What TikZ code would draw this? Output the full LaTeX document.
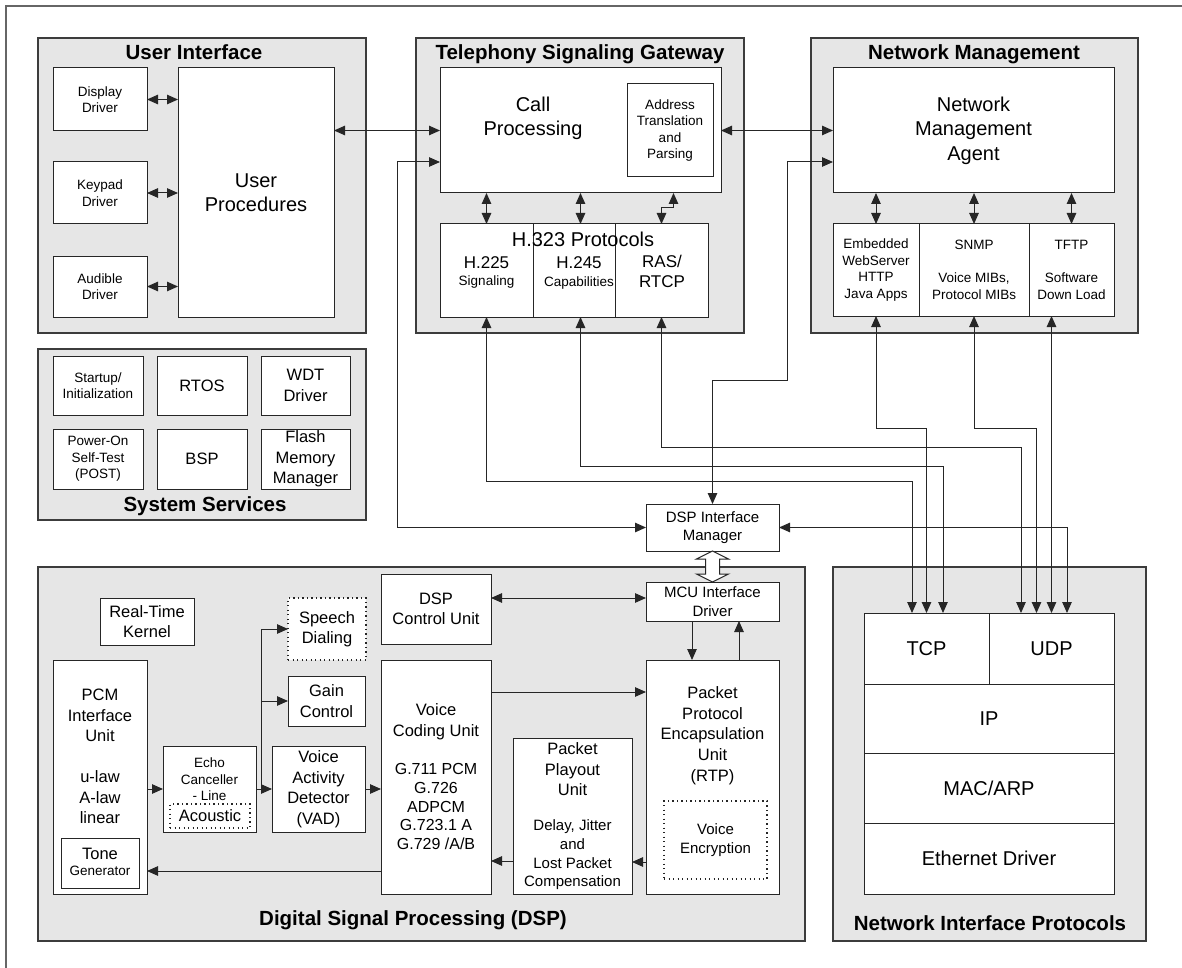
\documentclass[tikz,border=0pt]{standalone}
\usepackage{fontspec}
\setmainfont{Liberation Sans}
\usetikzlibrary{arrows.meta,calc}
\definecolor{grpfill}{RGB}{230,230,230}
\definecolor{grpline}{RGB}{60,60,60}
\newcommand\fA{\fontsize{20}{24.5}\selectfont}
\newcommand\fB{\fontsize{16.5}{20.5}\selectfont}
\newcommand\fC{\fontsize{13.5}{16.5}\selectfont}
\newcommand\fD{\fontsize{15}{18.7}\selectfont}
\newcommand\fE{\fontsize{17}{20}\selectfont}
\newcommand\fT{\fontsize{20.5}{24}\selectfont\bfseries}
\newcommand\mkbox[7][]{\node[box,minimum width={(#5-#3)*1pt},minimum height={(#6-#4)*1pt},#1] (#2) at ({(#3+#5)/2},{(#4+#6)/2}) {#7};}
\begin{document}
\begin{tikzpicture}[x=1pt,y=-1pt,
  >={Triangle[length=11pt,width=9.5pt]},
  grp/.style={draw=grpline,fill=grpfill,line width=1.2pt},
  box/.style={rectangle,draw=black!85,fill=white,line width=1pt,inner sep=0pt,outer sep=0pt,align=center},
  dotbox/.style={dash pattern=on 1.2pt off 3.3pt,line width=1.3pt},
  lbl/.style={inner sep=0pt,outer sep=0pt,align=center},
  ttl/.style={inner sep=0pt,font=\fT,anchor=base},
  conn/.style={draw=black!85,line width=1pt}]
\useasboundingbox (0,0) rectangle (1182,968);
\draw[draw=black!60,line width=1.3pt] (6,968) -- (6,6) -- (1182,6);

% groups
\mkbox[grp]{gUI}{38}{38}{366}{333}{}
\node[ttl] (tUI) at (194,59.5) {User Interface};
\mkbox[grp]{gTSG}{416}{38}{744}{333}{}
\node[ttl] (tTSG) at (580,59.5) {Telephony Signaling Gateway};
\mkbox[grp]{gNM}{811}{38}{1138}{333}{}
\node[ttl] (tNM) at (974,59.5) {Network Management};
\mkbox[grp]{gSS}{38}{349}{366}{520}{}
\node[ttl] (tSS) at (205,511.5) {System Services};
\mkbox[grp]{gDSP}{38}{567}{805}{941}{}
\node[ttl] (tDSP) at (413,925.5) {Digital Signal Processing (DSP)};
\mkbox[grp]{gNIP}{833}{567}{1146}{941}{}
\node[ttl] (tNIP) at (990,930.5) {Network Interface Protocols};

% user interface
\mkbox[font=\fC]{disp}{53}{68}{147}{131}{Display\\Driver}
\mkbox[font=\fC]{keyp}{53}{162}{147}{224}{Keypad\\Driver}
\mkbox[font=\fC]{aud}{53}{256}{147}{317}{Audible\\Driver}
\mkbox[font=\fA]{uproc}{178}{68}{334}{317}{User\\Procedures}

% telephony signaling gateway
\mkbox{cp}{440}{68}{721}{193}{}
\node[lbl,font=\fA] (cpt) at (533,118.5) {Call\\Processing};
\mkbox[font=\fC]{atp}{627}{84}{713}{177}{Address\\Translation\\and\\Parsing}
\mkbox{h225}{440}{224}{533}{317}{}
\mkbox{h245}{533}{224}{615}{317}{}
\mkbox{ras}{615}{224}{708}{317}{}
\node[lbl,font=\fA] (h323t) at (583,239) {H.323 Protocols};
\node[lbl,font=\fE] (h225a) at (486.5,263) {H.225};
\node[lbl,font=\fC] (h225b) at (486.5,282) {Signaling};
\node[lbl,font=\fE] (h245a) at (579,263) {H.245};
\node[lbl,font=\fC] (h245b) at (579,283) {Capabilities};
\node[lbl,font=\fE] (rast) at (662,271) {RAS/\\RTCP};

% network management
\mkbox[font=\fA]{nma}{833}{68}{1114}{193}{Network\\Management\\Agent}
\mkbox[font=\fC]{emb}{833}{224}{919}{316}{Embedded\\WebServer\\HTTP\\Java Apps}
\mkbox[font=\fC]{snmp}{919}{224}{1029}{316}{SNMP\\[16.5pt]Voice MIBs,\\Protocol MIBs}
\mkbox[font=\fC]{tftp}{1029}{224}{1114}{316}{TFTP\\[16.5pt]Software\\Down Load}

% system services
\mkbox[font=\fC]{su}{53}{356}{143}{415}{Startup/\\Initialization}
\mkbox[font=\fB]{rtos}{157}{356}{247}{415}{RTOS}
\mkbox[font=\fB]{wdt}{261}{356}{350}{415}{WDT\\Driver}
\mkbox[font=\fC]{post}{53}{429}{143}{489}{Power-On\\Self-Test\\(POST)}
\mkbox[font=\fB]{bsp}{157}{429}{247}{489}{BSP}
\mkbox[font=\fB]{flash}{261}{429}{350}{489}{Flash\\Memory\\Manager}

% DSP interface manager / MCU
\mkbox[font=\fD]{dspim}{646}{504}{779}{551}{DSP Interface\\Manager}
\mkbox[font=\fD]{mcu}{646}{582}{779}{621}{MCU Interface\\Driver}

% DSP
\mkbox[font=\fB]{rtk}{100}{598}{194}{645}{Real-Time\\Kernel}
\mkbox[font=\fB]{dcu}{381}{574}{491}{644}{DSP\\Control Unit}
\mkbox[dotbox,font=\fB]{sd}{288}{598}{366}{660}{Speech\\Dialing}
\mkbox[font=\fB]{gc}{288}{676}{365}{726}{Gain\\Control}
\mkbox[font=\fB]{vad}{272}{746}{365}{832}{Voice\\Activity\\Detector\\(VAD)}
\mkbox{echo}{163}{746}{256}{832}{}
\node[lbl,font=\fC] (echot) at (209.5,779.5) {Echo\\Canceller\\- Line};
\mkbox[dotbox,font=\fB]{acou}{170}{804}{250}{828}{Acoustic}
\mkbox{pcm}{53}{660}{147}{894}{}
\node[lbl,font=\fB] (pcmt) at (100,756.5) {PCM\\Interface\\Unit\\[20.5pt]u-law\\A-law\\linear};
\mkbox{tone}{61}{838}{139}{888}{}
\node[lbl,font=\fB] (tonea) at (100,854) {Tone};
\node[lbl,font=\fC] (toneb) at (100,871) {Generator};
\mkbox{vcu}{381}{660}{491}{894}{}
\node[lbl,font=\fB] (vcua) at (436,721.5) {Voice\\Coding Unit};
\node[lbl,font=\fontsize{16}{18.75}\selectfont] (vcub) at (436,806.5) {G.711 PCM\\G.726\\ADPCM\\G.723.1 A\\G.729 /A/B};
\mkbox{ppu}{513}{738}{632}{894}{}
\node[lbl,font=\fB] (ppua) at (572.5,769.5) {Packet\\Playout\\Unit};
\node[lbl,font=\fD] (ppub) at (572.5,855) {Delay, Jitter\\and\\Lost Packet\\Compensation};
\mkbox{ppe}{646}{660}{779}{894}{}
\node[lbl,font=\fontsize{16.5}{20.75}\selectfont] (ppet) at (712.5,735.5) {Packet\\Protocol\\Encapsulation\\Unit\\(RTP)};
\mkbox[dotbox,font=\fD]{venc}{664}{801}{767}{879}{Voice\\Encryption}

% network interface protocols
\mkbox[font=\fA]{tcp}{864}{613}{989}{684}{TCP}
\mkbox[font=\fA]{udp}{989}{613}{1114}{684}{UDP}
\mkbox[font=\fA]{ip}{864}{684}{1114}{753}{IP}
\mkbox[font=\fA]{mac}{864}{753}{1114}{823}{MAC/ARP}
\mkbox[font=\fA]{eth}{864}{823}{1114}{894}{Ethernet Driver}

% connectors: user interface
\draw[conn,<->] (disp.east) -- (disp.east -| uproc.west);
\draw[conn,<->] (keyp.east) -- (keyp.east -| uproc.west);
\draw[conn,<->] (aud.east) -- (aud.east -| uproc.west);
\draw[conn,<->] (cp.west -| uproc.east) -- (cp.west);
\draw[conn,<->] (cp.east) -- (nma.west);

% TSG internal
\draw[conn,<->] (h225.north |- cp.south) -- (h225.north);
\draw[conn,<->] (cp.south) -- (cp.south |- h245.north);
\draw[conn,<->] (ras.north) -- ++(0,-16) -| ($(ras.north |- cp.south)+(12,0)$);

% NM internal
\draw[conn,<->] (nma.south -| emb.north) -- (emb.north);
\draw[conn,<->] (nma.south -| snmp.north) -- (snmp.north);
\draw[conn,<->] (nma.south -| tftp.north) -- (tftp.north);

% long connectors
\coordinate (cpL) at ([yshift=-31.5pt]cp.west);
\draw[conn,<->] (cpL) -- ++(-43,0) |- (dspim.west);
\coordinate (nmL) at ([yshift=-31.5pt]nma.west);
\draw[conn,<->] (nmL) -- ++(-46,0) |- ($(dspim.north)+(0,-124)$) -- (dspim.north);
\draw[conn,<->] (h225.south) -- ++(0,164) -| ($(tcp.north)+(-14.5,0)$);
\draw[conn,<->] (cp.south |- h245.south) -- ++(0,149) -| ($(tcp.north)+(16.5,0)$);
\draw[conn,<->] (ras.south) -- ++(0,130) -| ($(udp.north)+(-30.5,0)$);
\draw[conn,<->] (emb.south) -- ++(0,112) -| (tcp.north);
\draw[conn,<->] (snmp.south) -- ++(0,112) -| ($(udp.north)+(-15,0)$);
\draw[conn,<->] (udp.north |- tftp.south) -- (udp.north);
\draw[conn,<->] (dspim.east) -| ($(udp.north)+(15.5,0)$);

% fat double arrow
\draw[draw=black!85,fill=white,line width=1pt] (dspim.south) -- ++(16,8) -- ++(-9,0) -- ++(0,15) -- ++(9,0) -- (mcu.north) -- ++(-16,-8) -- ++(9,0) -- ++(0,-15) -- ++(-9,0) -- cycle;

% DSP connectors
\coordinate (m1) at ([yshift=3.5pt]mcu.west);
\draw[conn,<->] (m1 -| dcu.east) -- (m1);
\coordinate (m2) at ($(mcu.south)+(-20.5,0)$);
\draw[conn,->] (m2) -- (m2 |- ppe.north);
\coordinate (m3) at ($(mcu.south)+(26.5,0)$);
\draw[conn,->] (m3 |- ppe.north) -- (m3);
\coordinate (v1) at ($(vcu.north east)+(0,32)$);
\draw[conn,->] (v1) -- (v1 -| ppe.west);
\draw[conn,->] (echo.west -| pcm.east) -- (echo.west);
\draw[conn,->] (echo.east) -- (vad.west);
\coordinate (br) at ($(echo.east)+(5,0)$);
\draw[conn,->] (br) |- (sd.west);
\draw[conn,->] (br) |- (gc.west);
\draw[conn,->] (vad.east) -- (vad.east -| vcu.west);
\coordinate (p1) at ($(ppe.south west)+(0,-32)$);
\draw[conn,->] (p1) -- (p1 -| ppu.east);
\coordinate (p2) at ($(ppu.south west)+(0,-33)$);
\draw[conn,->] (p2) -- (p2 -| vcu.east);
\coordinate (p3) at ($(vcu.south west)+(0,-23)$);
\draw[conn,->] (p3) -- (p3 -| pcm.east);
\end{tikzpicture}
\end{document}
